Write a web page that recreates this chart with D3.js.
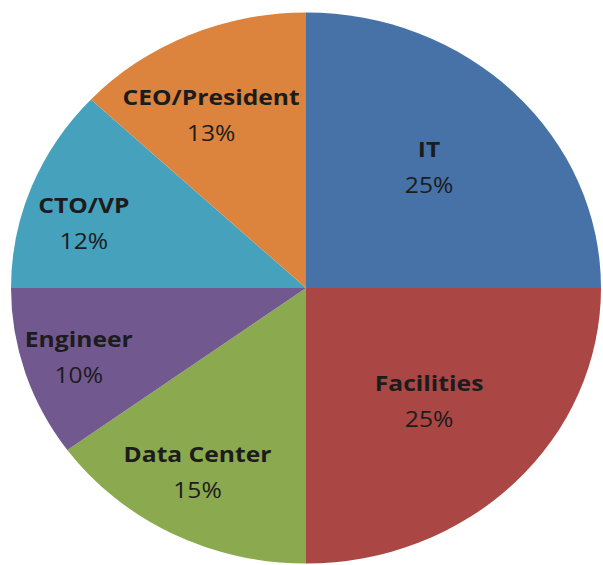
<!DOCTYPE html>
<html>
<head>
<meta charset="utf-8">
<script src="https://cdn.jsdelivr.net/npm/d3@7"></script>
<style>
  body { margin: 0; background: #fff; }
  svg { display: block; }
</style>
</head>
<body>
<svg></svg>
<script>
const categories = ['IT', 'Facilities', 'Data Center', 'Engineer', 'CTO/VP', 'CEO/President']
const values = [25, 25, 15, 10, 12, 13]
const colors = ['#4672a8', '#aa4644', '#8ba94f', '#71588f', '#46a1bd', '#dc843e']

let width = 603
let height = 565
let cx = 306
let cy = 288
let radius = 295
let squash = 0.934   // the pie is a bit flatter than it is wide
let textStretch = 1.12

let data = categories.map((c, i) => ({ name: c, value: values[i], color: colors[i] }))

let pie = d3.pie()
            .sort(null)
            .value(d => d.value)

let arc = d3.arc()
            .innerRadius(0)
            .outerRadius(radius)

let unitArc = d3.arc()
                .innerRadius(1)
                .outerRadius(1)

// big slices get their label nearer the middle; labels of the small ones
// sit further out, on a flattened ring that sits a little lower
let labelPos = d => {
  let [ux, uy] = unitArc.centroid(d)
  let big = d.data.value >= 20
  let rx = radius * (big ? 0.59 : 0.81)
  let ry = radius * (big ? 0.6 : 0.715)
  let shift = big ? -4 : 8
  return [ux * rx, uy * ry * squash + shift]
}

let svg = d3.select('svg')
    .attr('width', width)
    .attr('height', height)

let slices = pie(data)

svg.append('g')
    .attr('transform', `translate(${cx},${cy}) scale(1,${squash})`)
  .selectAll('path')
  .data(slices)
  .enter()
  .append('path')
    .attr('d', arc)
    .attr('fill', d => d.data.color)

let labels = svg.append('g')
    .attr('transform', `translate(${cx},${cy})`)
  .selectAll('g')
  .data(slices)
  .enter()
  .append('g')
    .attr('transform', d => {
      let [x, y] = labelPos(d)
      return `translate(${x},${y}) scale(${textStretch},1)`
    })
    .attr('font-family', '"Open Sans", sans-serif')
    .attr('fill', '#1c1c1c')
    .attr('text-anchor', 'middle')

labels.append('text')
    .attr('y', -10)
    .attr('font-size', 22)
    .attr('font-weight', 'bold')
    .text(d => d.data.name)

labels.append('text')
    .attr('y', 26)
    .attr('font-size', 22)
    .text(d => d.data.value + '%')
</script>
</body>
</html>
